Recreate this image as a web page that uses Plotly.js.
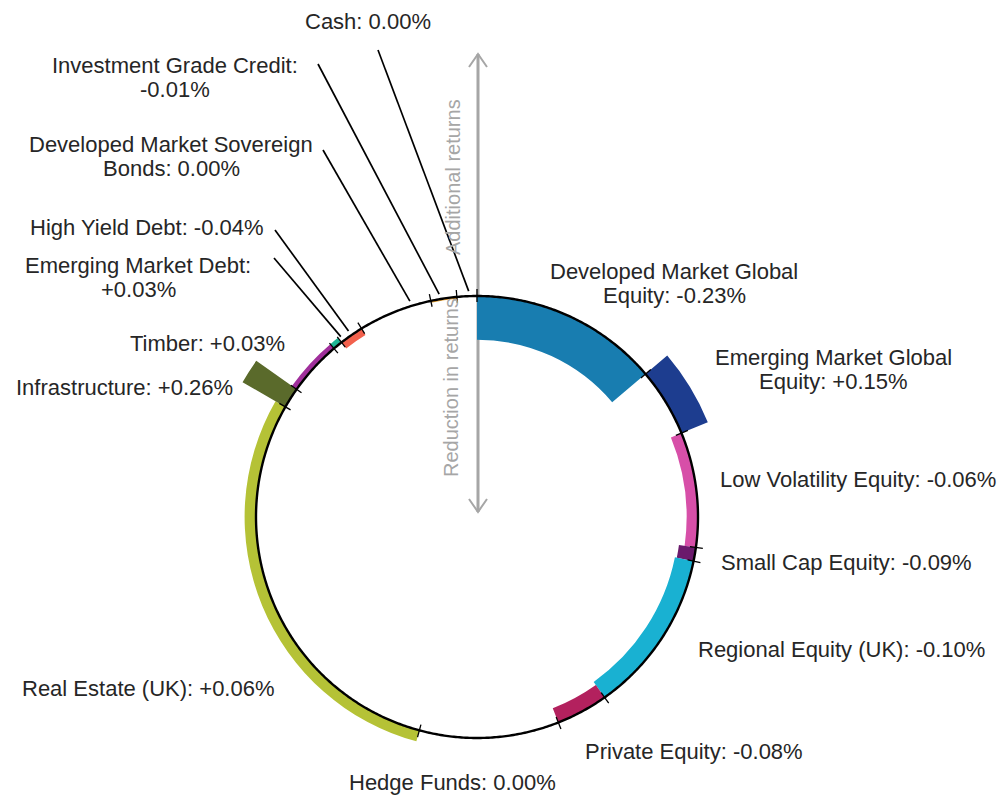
<!DOCTYPE html>
<html>
<head>
<meta charset="utf-8">
<script src="https://cdn.plot.ly/plotly-3.0.1.min.js"></script>
<style>html,body{margin:0;padding:0;background:#fff;}#chart{width:1004px;height:801px;}</style>
</head>
<body>
<div id="chart"></div>
<script>
// ---- data ----
const categories = [
  "Developed Market Global Equity", "Emerging Market Global Equity", "Low Volatility Equity",
  "Small Cap Equity", "Regional Equity (UK)", "Private Equity", "Hedge Funds", "Real Estate (UK)",
  "Infrastructure", "Timber", "Emerging Market Debt", "High Yield Debt",
  "Developed Market Sovereign Bonds", "Investment Grade Credit", "Cash"
];
// portfolio weights (%), clockwise from 12 o'clock
const weights = [13.8, 5.0, 8.4, 1.0, 12.0, 3.8, 10.2, 29.1, 1.5, 4.0, 0.7, 1.75, 5.4, 1.9, 1.45];
// contribution to return (%)
const returns = [-0.23, 0.15, -0.06, -0.09, -0.10, -0.08, 0.00, 0.06, 0.26, 0.03, 0.03, -0.04, 0.00, -0.01, 0.00];
const colors = ["#187db0", "#1d3d8f", "#d74fa8", "#6b1a6c", "#19b1d2", "#b3215e", "#999999",
  "#b5c236", "#5a6a2b", "#a02f9b", "#1fb596", "#f2614d", "#999999", "#e8a131", "#999999"];
const axisTexts = ["Additional returns", "Reduction in returns"];

// ---- layout constants (pixels) ----
const W = 1004, H = 801;
const CX = 477, CY = 517, R = 221, S = 280, K = 190; // K: px per 1% return
const FONT = "Liberation Sans, Arial, sans-serif";
const TXT = "#262626";

// label placement: first-line centre, words on first line (0 = single line), leader line
const labelPos = [
  {x: 674, y: 271, brk: 3},
  {x: 833, y: 357, brk: 3},
  {x: 858, y: 479, brk: 0},
  {x: 846, y: 562, brk: 0},
  {x: 841, y: 649, brk: 0},
  {x: 694, y: 751, brk: 0},
  {x: 452, y: 782, brk: 0},
  {x: 148, y: 688, brk: 0},
  {x: 124, y: 387, brk: 0},
  {x: 207, y: 343, brk: 0},
  {x: 138, y: 265, brk: 3, lead: {x: 274, y: 258, dAng: 2}},
  {x: 147, y: 227, brk: 0, lead: {x: 275, y: 230, dAng: 0}},
  {x: 171, y: 144, brk: 3, lead: {x: 323, y: 150, dAng: 4.5}},
  {x: 175, y: 65, brk: 3, lead: {x: 318, y: 64, dAng: -1}},
  {x: 368, y: 21, brk: 0, lead: {x: 378, y: 50, dAng: 0.5}}
];

// ---- derived angles ----
const total = weights.reduce((a, b) => a + b, 0);
const widths = weights.map(w => w / total * 360);
const centers = [], bounds = [];
let cum = 0;
widths.forEach(w => { bounds.push(cum); centers.push(cum + w / 2); cum += w; });

const fmt = v => (v > 0 ? "+" : "") + v.toFixed(2) + "%";

// ---- traces ----
const traces = [];
traces.push({type: "scatter", x: [], y: [], xaxis: "x", yaxis: "y", showlegend: false, hoverinfo: "skip"});
traces.push({
  type: "barpolar", subplot: "polar",
  theta: centers, width: widths,
  r: returns.map(v => Math.abs(v) * K),
  base: returns.map(v => R + Math.min(v, 0) * K),
  marker: {color: colors, line: {width: 0}},
  showlegend: false, hoverinfo: "skip"
});
const circT = [], circR = [];
for (let a = 0; a <= 360; a += 0.5) { circT.push(a); circR.push(R); }
traces.push({type: "scatterpolar", subplot: "polar", mode: "lines", theta: circT, r: circR,
  line: {color: "#000", width: 2.4}, showlegend: false, hoverinfo: "skip"});
const tkT = [], tkR = [];
bounds.forEach(b => { tkT.push(b, b, null); tkR.push(R - 6, R + 7, null); });
traces.push({type: "scatterpolar", subplot: "polar", mode: "lines", theta: tkT, r: tkR,
  line: {color: "#000", width: 1.3}, connectgaps: false, showlegend: false, hoverinfo: "skip"});

// ---- annotations & shapes ----
const annotations = [], shapes = [];
categories.forEach((c, i) => {
  const words = (c + ": " + fmt(returns[i])).split(" ");
  const p = labelPos[i];
  const lines = p.brk ? [words.slice(0, p.brk).join(" "), words.slice(p.brk).join(" ")] : [words.join(" ")];
  lines.forEach((t, j) => annotations.push({
    xref: "x", yref: "y", x: p.x, y: p.y + j * 24, text: t, showarrow: false,
    xanchor: "center", yanchor: "middle", font: {family: FONT, size: 22, color: TXT}
  }));
  if (p.lead) {
    const a = (centers[i] + p.lead.dAng) * Math.PI / 180;
    shapes.push({type: "line", xref: "x", yref: "y", x0: p.lead.x, y0: p.lead.y,
      x1: CX + (R + 5) * Math.sin(a), y1: CY - (R + 5) * Math.cos(a),
      line: {color: "#000", width: 1.7}});
  }
});
// gray double arrow
const GX = 478, GT = 54, GB = 512, GC = "#a6a6a6";
shapes.push({type: "line", xref: "x", yref: "y", x0: GX, y0: GT, x1: GX, y1: GB, line: {color: GC, width: 3}, layer: "below"});
shapes.push({type: "path", xref: "x", yref: "y", path: `M ${GX-9} ${GT+13} L ${GX} ${GT} L ${GX+9} ${GT+13}`, line: {color: GC, width: 2}, layer: "below"});
shapes.push({type: "path", xref: "x", yref: "y", path: `M ${GX-9} ${GB-13} L ${GX} ${GB} L ${GX+9} ${GB-13}`, line: {color: GC, width: 2}, layer: "below"});
annotations.push({xref: "x", yref: "y", x: 453, y: 177, text: axisTexts[0], textangle: -90, showarrow: false,
  xanchor: "center", yanchor: "middle", font: {family: FONT, size: 20, color: GC}});
annotations.push({xref: "x", yref: "y", x: 451, y: 388, text: axisTexts[1], textangle: -90, showarrow: false,
  xanchor: "center", yanchor: "middle", font: {family: FONT, size: 20, color: GC}});

const layout = {
  width: W, height: H, margin: {l: 0, r: 0, t: 0, b: 0, pad: 0},
  paper_bgcolor: "#fff", plot_bgcolor: "rgba(0,0,0,0)", showlegend: false,
  font: {family: FONT, color: TXT},
  xaxis: {domain: [0, 1], range: [0, W], visible: false, fixedrange: true},
  yaxis: {domain: [0, 1], range: [H, 0], visible: false, fixedrange: true},
  polar: {
    domain: {x: [(CX - S) / W, (CX + S) / W], y: [(H - CY - S) / H, (H - CY + S) / H]},
    bgcolor: "rgba(0,0,0,0)",
    radialaxis: {range: [0, S], visible: false},
    angularaxis: {rotation: 90, direction: "clockwise", visible: false}
  },
  annotations: annotations, shapes: shapes
};
Plotly.newPlot("chart", traces, layout, {displayModeBar: false, staticPlot: true});
</script>
</body>
</html>
